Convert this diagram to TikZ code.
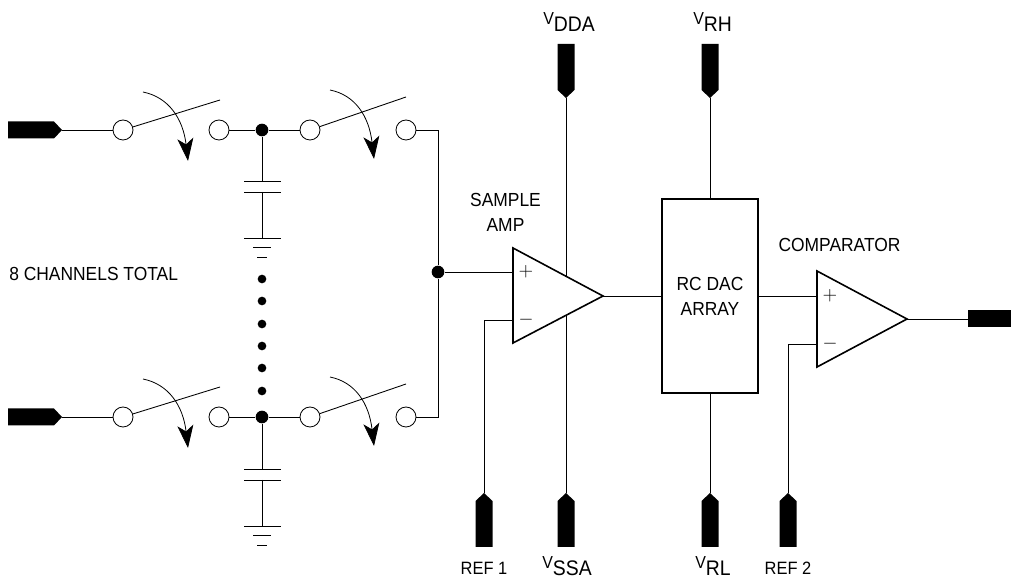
\documentclass[tikz,border=0pt]{standalone}
\usepackage{fontspec}
\setmainfont[FakeStretch=0.92]{Liberation Sans}
\usepackage{xcolor}
\usetikzlibrary{arrows.meta}

\newcommand{\vsub}[1]{{\fontsize{13}{14}\selectfont V}\raisebox{-5.2pt}{\fontsize{15.8}{16}\selectfont #1}}

\tikzset{
    wire/.style={line width=0.65pt},
    contact/.style={circle,draw,fill=white,line width=0.6pt,minimum size=15pt,inner sep=0pt},
    junction/.style={circle,fill=black,minimum size=9.5pt,inner sep=0pt},
    chaindot/.style={circle,fill=black,minimum size=6.5pt,inner sep=0pt},
    label/.style={font=\fontsize{14.2}{15}\selectfont,inner sep=0pt,align=center},
    reflabel/.style={font=\fontsize{13.4}{15}\selectfont,inner sep=0pt},
    polarity/.style={font=\fontsize{14.5}{15}\selectfont,inner sep=0pt},
    sweep/.style={line width=0.6pt,-{Stealth[length=17pt,width=12pt,inset=4.5pt]}},
    pics/padpin/.style={code={\fill (0,0) -- (-8,-8.5) -- (-54,-8.5) -- (-54,8.5) -- (-8,8.5) -- cycle;}}
}

\begin{document}
\begin{tikzpicture}[x=0.75pt,y=-0.75pt]
        \useasboundingbox (0,0) rectangle (1011,580);

        % Input channels
        \coordinate (pinA) at (62,130);
        \coordinate (pinB) at (62,417);
        \pic at (pinA) {padpin};
        \pic at (pinB) {padpin};

        \foreach \ch/\ypos/\gnd in {A/130/0,B/417/288} {
            \node[contact] (in\ch) at (123,\ypos) {};
            \node[contact] (mid\ch) at (219,\ypos) {};
            \node[junction] (hold\ch) at (262,\ypos) {};
            \node[contact] (out\ch) at (310,\ypos) {};
            \node[contact] (end\ch) at (406,\ypos) {};
            \coordinate (bladeIn\ch) at (220,\ypos-30);
            \coordinate (bladeOut\ch) at (406,\ypos-33);
            \draw[wire] (pin\ch) -- (in\ch);
            \draw[wire] (mid\ch) -- (hold\ch) -- (out\ch);
            \draw[wire] (in\ch) -- (bladeIn\ch);
            \draw[wire] (out\ch) -- (bladeOut\ch);

            % Hold capacitor and ground
            \coordinate (capTop\ch) at (262,181+\gnd);
            \coordinate (capBot\ch) at (262,192+\gnd);
            \coordinate (gnd\ch) at (262,238+\gnd);
            \draw[wire] (hold\ch) -- (capTop\ch);
            \draw[wire] (capBot\ch) -- (gnd\ch);
            \draw[wire] (244,181+\gnd) -- (281,181+\gnd);
            \draw[wire] (244,192+\gnd) -- (281,192+\gnd);
            \draw[wire] (244,238+\gnd) -- (281,238+\gnd);
            \draw[wire] (253,247+\gnd) -- (271,247+\gnd);
            \draw[wire] (257,257+\gnd) -- (267,257+\gnd);
        }

        % Sampling arrows
        \draw[sweep] (143,92) .. controls (168,97) and (183,118) .. (188,161);
        \draw[sweep] (330,377) .. controls (355,382) and (369,403) .. (374,446);
        \draw[sweep] (143,379) .. controls (168,384) and (183,405) .. (188,448);
        \draw[sweep] (330,90) .. controls (355,95) and (369,116) .. (374,159);

        % Channel chain
        \foreach \ypos [count=\i] in {279,301,324,346,368,391} {
            \node[chaindot] (chain\i) at (262,\ypos) {};
        }
        \node[label,anchor=west] (total) at (9,274) {8 CHANNELS TOTAL};

        % Common node
        \node[junction] (common) at (438,272) {};
        \draw[wire] (endA) -| (common);
        \draw[wire] (endB) -| (common);

        % Supply and reference pins
        \coordinate (pinDDA) at (566,98);
        \coordinate (pinRH) at (710,98);
        \coordinate (pinRefA) at (484,493);
        \coordinate (pinSSA) at (566,493);
        \coordinate (pinRL) at (710,493);
        \coordinate (pinRefB) at (788,493);
        \pic[rotate=-90] at (pinDDA) {padpin};
        \pic[rotate=-90] at (pinRH) {padpin};
        \pic[rotate=90] at (pinRefA) {padpin};
        \pic[rotate=90] at (pinSSA) {padpin};
        \pic[rotate=90] at (pinRL) {padpin};
        \pic[rotate=90] at (pinRefB) {padpin};
        \draw[wire] (pinDDA) -- (pinSSA);

        % Sample amplifier
        \coordinate (ampTop) at (513,248);
        \coordinate (ampBot) at (513,343);
        \coordinate (ampOut) at (603,296);
        \coordinate (ampPlus) at (513,272);
        \coordinate (ampMinus) at (513,320);
        \draw[line width=1.2pt,fill=white] (ampTop) -- (ampOut) -- (ampBot) -- cycle;
        \draw[wire] (common) -- (ampPlus);
        \draw[wire] (pinRefA) |- (ampMinus);
        \node[polarity] (plusA) at (526,272) {$+$};
        \node[polarity] (minusA) at (526,320) {$-$};
        \node[label,anchor=base] (ampTextA) at (505.5,207) {SAMPLE};
        \node[label,anchor=base] (ampTextB) at (505.5,232) {AMP};

        % DAC array
        \node[draw,line width=1.2pt,minimum width=72pt,minimum height=145.5pt,inner sep=0pt] (dac) at (710,296) {};
        \node[label,anchor=base] (dacTextA) at (710,291) {RC DAC};
        \node[label,anchor=base] (dacTextB) at (710,316) {ARRAY};
        \draw[wire] (ampOut) -- (dac.west);
        \draw[wire] (pinRH) -- (dac.north);
        \draw[wire] (pinRL) -- (dac.south);

        % Comparator
        \coordinate (cmpTop) at (817,271);
        \coordinate (cmpBot) at (817,367);
        \coordinate (cmpOut) at (907,319);
        \coordinate (cmpPlus) at (817,296);
        \coordinate (cmpMinus) at (817,344);
        \draw[line width=1.2pt,fill=white] (cmpTop) -- (cmpOut) -- (cmpBot) -- cycle;
        \draw[wire] (dac.east) -- (cmpPlus);
        \draw[wire] (pinRefB) |- (cmpMinus);
        \node[polarity] (plusB) at (830,296) {$+$};
        \node[polarity] (minusB) at (830,344) {$-$};
        \node[label,anchor=base] (cmpText) at (839.5,252) {COMPARATOR};

        % Output pin
        \node[fill=black,minimum width=32.25pt,minimum height=12.75pt,inner sep=0pt] (pinOut) at (989.5,319) {};
        \draw[wire] (cmpOut) -- (pinOut);

        % Labels
        \node[inner sep=0pt,anchor=base west] (vdda) at (543,25) {\vsub{DDA}};
        \node[inner sep=0pt,anchor=base west] (vrh) at (693,25) {\vsub{RH}};
        \node[inner sep=0pt,anchor=base west] (vssa) at (542,568.5) {\vsub{SSA}};
        \node[inner sep=0pt,anchor=base west] (vrl) at (695,568.5) {\vsub{RL}};
        \node[reflabel,anchor=base] (refA) at (484,575) {REF 1};
        \node[reflabel,anchor=base] (refB) at (788,575) {REF 2};
    \end{tikzpicture}
\end{document}
